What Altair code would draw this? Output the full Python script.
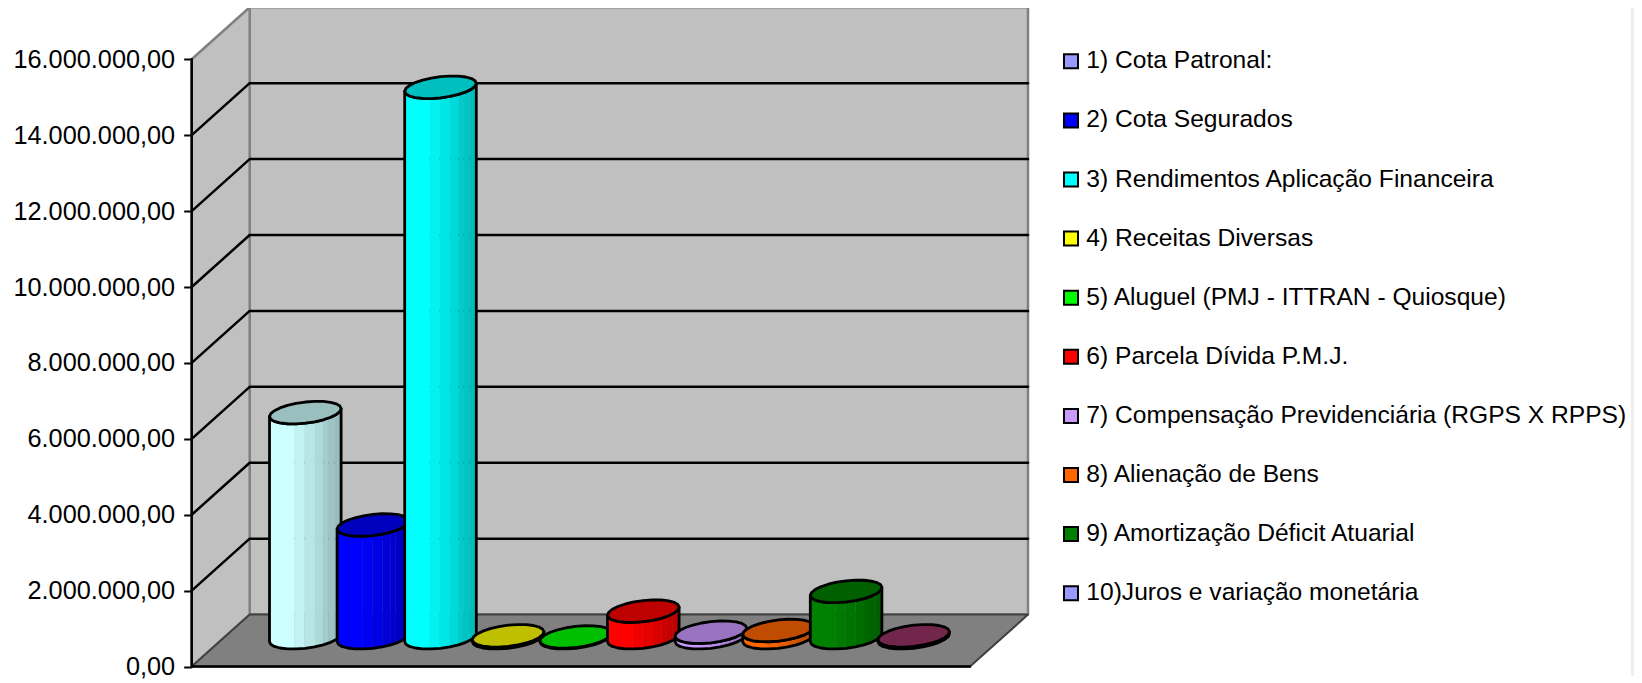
import numpy as np
import pandas as pd
import altair as alt

categories = [
    "1) Cota Patronal:", "2) Cota Segurados", "3) Rendimentos Aplicação Financeira",
    "4) Receitas Diversas", "5) Aluguel (PMJ - ITTRAN - Quiosque)", "6) Parcela Dívida P.M.J.",
    "7) Compensação Previdenciária (RGPS X RPPS)", "8) Alienação de Bens",
    "9) Amortização Déficit Atuarial", "10)Juros e variação monetária",
]
values = [5930000, 2970000, 14500000, 50000, 20000, 700000, 145000, 190000, 1220000, 50000]
legend_colors = ["#9999FF", "#0000FF", "#00FFFF", "#FFFF00", "#00FF00",
                 "#FF0000", "#CC99FF", "#FF6600", "#008000", "#9999FF"]
bar_colors = ["#CCFFFF", "#0000FF", "#00FFFF", "#FFFF00", "#00FF00",
              "#FF0000", "#CC99FF", "#FF6600", "#008000", "#993366"]
y_ticks = [0, 2000000, 4000000, 6000000, 8000000, 10000000, 12000000, 14000000, 16000000]
facet_edges = [0, .35, .49, .635, .75, .82, .906, 1]
facet_shades = [1, .95, .9, .85, .8, .77, .74]

# scale set-up (1 x unit = one category slot)
PX_X, PX_Y = 67.6, 37.96 / 1e6
W, H = 1442.3, 668
X0 = 1 + (191.7 - 305.3) / PX_X
X_DOM = [X0, X0 + W / PX_X]
Y_DOM = [(666.6 - 676) / PX_Y, (666.6 - 8) / PX_Y]
DX, DY = 58 / PX_X, 52 / PX_Y
XR = X0 + (970 - 191.7) / PX_X
RX, SX, RY = 33.5 / PX_X, 12.6 / PX_X, 11.3 / PX_Y
BASE = 28.9 / PX_Y
TOP = y_ticks[-1]

rows = []
def poly(pts, fill="transparent", stroke="transparent", sw=0.0):
    pid = poly.n
    poly.n += 1
    for k, (x, y) in enumerate(pts):
        rows.append(dict(poly=pid, k=k, x=float(x), y=float(y), fill=fill, stroke=stroke, sw=sw))
poly.n = 0

def shade(c, f):
    r, g, b = [int(c[i:i + 2], 16) for i in (1, 3, 5)]
    return "#%02x%02x%02x" % (round(r * f), round(g * f), round(b * f))

# strip at the right edge
poly([(X0 + 1439.3 / PX_X, Y_DOM[0]), (X_DOM[1], Y_DOM[0]), (X_DOM[1], Y_DOM[1]), (X0 + 1439.3 / PX_X, Y_DOM[1])], "#EEEEEE")
# walls and floor
poly([(X0 + DX, DY), (XR + DX, DY), (XR + DX, TOP + DY), (X0 + DX, TOP + DY), (X0 + DX, DY)], "#C0C0C0", "#808080", 2.5)
poly([(X0, 0), (X0 + DX, DY), (X0 + DX, TOP + DY), (X0, TOP), (X0, 0)], "#C0C0C0", "#808080", 2.5)
poly([(X0, 0), (XR, 0), (XR + DX, DY), (X0 + DX, DY), (X0, 0)], "#808080", "#404040", 2)
for v in y_ticks[1:-1]:
    poly([(X0, v), (X0 + DX, v + DY), (XR + DX, v + DY)], "transparent", "#000000", 2.5)
poly([(X0, TOP), (X0, 0), (XR, 0)], "transparent", "#000000", 2.5)

# cylinders
a = np.arctan2(SX, RX)
front = np.linspace(np.pi + a, 2 * np.pi + a, 13)
ring = np.linspace(a, 2 * np.pi + a, 25)
for i, (v, c) in enumerate(zip(values, bar_colors)):
    cx = i + 1
    yb, yt = BASE, BASE + v
    fx = cx + RX * np.cos(front) + SX * np.sin(front)
    fy = RY * np.sin(front)
    left, right = fx[0], fx[-1]
    for e0, e1, s in zip(facet_edges[:-1], facet_edges[1:], facet_shades):
        xa, xb = left + e0 * (right - left), left + e1 * (right - left)
        xs = np.concatenate([[xa], fx[(fx > xa) & (fx < xb)], [xb]])
        ys = np.interp(xs, fx, fy)
        col = shade(c, s)
        poly(list(zip(xs, ys + yt)) + list(zip(xs[::-1], ys[::-1] + yb)), col, col, 0.6)
    poly(list(zip(fx, fy + yt)) + list(zip(fx[::-1], fy[::-1] + yb)) + [(fx[0], fy[0] + yt)],
         "transparent", "#000000", 2.8)
    poly(list(zip(cx + RX * np.cos(ring) + SX * np.sin(ring), yt + RY * np.sin(ring))),
         shade(c, .75), "#000000", 2.8)

polys = pd.DataFrame(rows)
x_scale = alt.Scale(domain=X_DOM, nice=False, zero=False)
y_scale = alt.Scale(domain=Y_DOM, nice=False, zero=False)

axis = alt.Axis(values=y_ticks, title=None, grid=False, domain=False, tickColor="#000000", tickWidth=2,
                tickSize=8, labelPadding=9, labelFont="Liberation Sans", labelFontSize=25.3,
                labelColor="#000000", labelOverlap=False, labelBound=False,
                labelExpr="datum.value == 0 ? '0,00' : format(datum.value / 1000000, 'd') + '.000.000,00'")

shapes = alt.Chart(polys).mark_line(clip=False, strokeJoin="round", strokeCap="round", interpolate="linear").encode(
    x=alt.X("x:Q", scale=x_scale, axis=None),
    y=alt.Y("y:Q", scale=y_scale, axis=axis),
    order="k:Q",
    detail="poly:N",
    fill=alt.Fill("fill:N", scale=None),
    stroke=alt.Stroke("stroke:N", scale=None),
    strokeWidth=alt.StrokeWidth("sw:Q", scale=None),
)

keys = pd.DataFrame({"pos": np.arange(1, 11), "value": values, "categoria": categories})
legend_layer = alt.Chart(keys).mark_square(opacity=0, size=10).encode(
    x=alt.X("pos:Q", scale=x_scale, axis=None),
    y=alt.Y("value:Q", scale=y_scale, axis=axis),
    color=alt.Color("categoria:N", scale=alt.Scale(domain=categories, range=legend_colors),
                    legend=alt.Legend(title=None, orient="none", legendX=867, legendY=41, padding=0,
                                      symbolType="square", symbolSize=196, symbolStrokeColor="#000000",
                                      symbolStrokeWidth=2, symbolOpacity=1, labelFont="Liberation Sans",
                                      labelFontSize=24.6, labelColor="#000000", labelOffset=3, rowPadding=34.1,
                                      labelLimit=700, values=categories)),
)

chart = alt.layer(shapes, legend_layer).properties(
    width=W, height=H,
    autosize=alt.AutoSizeParams(type="none"),
    padding={"left": 183.7, "top": 0, "right": 0, "bottom": 3},
    background="#FFFFFF",
).configure_view(stroke=None)

chart.save("out.html", embed_options={"renderer": "svg", "actions": False})
